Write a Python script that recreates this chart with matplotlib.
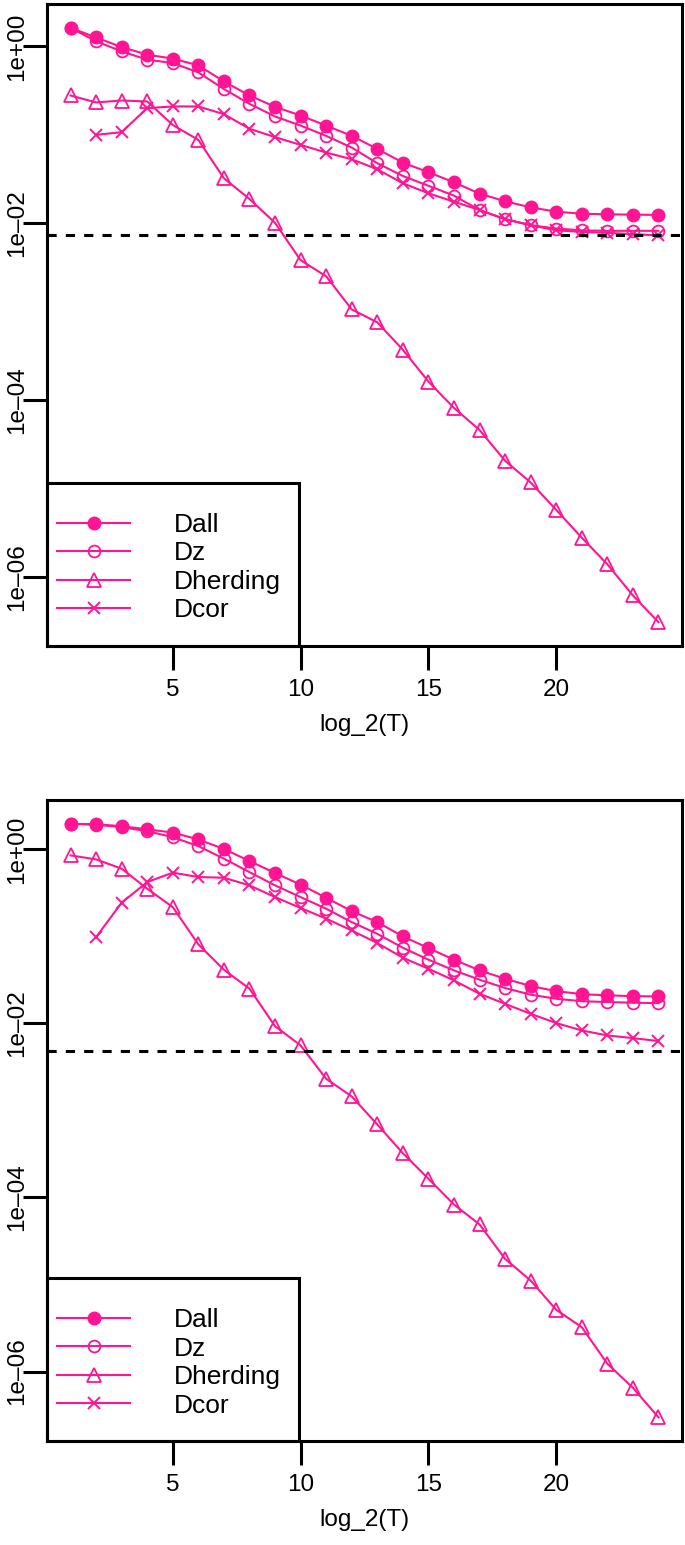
import matplotlib
matplotlib.use("Agg")
import matplotlib.pyplot as plt
from matplotlib.patches import Rectangle
from matplotlib.ticker import FixedLocator, FuncFormatter, NullLocator
import numpy as np

plt.rcParams['font.family'] = ['Liberation Sans', 'DejaVu Sans']

T = list(range(1, 25))
T_cor = list(range(2, 25))

# panel 1
dall_1 = [1.62, 1.26, 0.98, 0.805, 0.726, 0.609, 0.401, 0.278, 0.207, 0.165, 0.127, 0.0972,
          0.0692, 0.0484, 0.0377, 0.029, 0.0216, 0.0177, 0.0151, 0.0135, 0.0128, 0.0126, 0.0125, 0.0124]
dz_1 = [1.62, 1.14, 0.877, 0.706, 0.648, 0.507, 0.329, 0.224, 0.161, 0.127, 0.0972, 0.0716,
        0.0477, 0.0342, 0.0265, 0.0205, 0.0141, 0.0111, 0.0095, 0.0087, 0.0083, 0.0082, 0.0082, 0.0082]
dherd_1 = [0.278, 0.232, 0.244, 0.238, 0.129, 0.0875, 0.0322, 0.0188, 0.0101, 0.00382, 0.00251,
           0.00106, 0.000757, 0.000371, 0.000162, 8.15e-5, 4.59e-5, 2.06e-5, 1.17e-5, 5.73e-6,
           2.78e-6, 1.39e-6, 6.18e-7, 3.08e-7]
dcor_1 = [0.0997, 0.107, 0.2, 0.209, 0.209, 0.171, 0.117, 0.094, 0.0768, 0.0629, 0.0529, 0.0407,
          0.0283, 0.0218, 0.0175, 0.0141, 0.0111, 0.0095, 0.0083, 0.00798, 0.00778, 0.00752, 0.00727]
ref_1 = 0.0074

# panel 2
dall_2 = [1.97, 1.94, 1.85, 1.70, 1.56, 1.30, 1.01, 0.735, 0.535, 0.393, 0.278, 0.195, 0.146,
          0.1, 0.0734, 0.054, 0.0407, 0.0326, 0.0269, 0.0235, 0.0217, 0.021, 0.0206, 0.0204]
dz_2 = [1.97, 1.92, 1.80, 1.62, 1.38, 1.09, 0.782, 0.548, 0.386, 0.283, 0.208, 0.146, 0.107,
        0.0741, 0.054, 0.0407, 0.0318, 0.0255, 0.0214, 0.0192, 0.018, 0.0176, 0.0173, 0.0171]
dherd_2 = [0.853, 0.767, 0.6, 0.353, 0.217, 0.081, 0.0414, 0.0251, 0.0093, 0.00559, 0.00231,
           0.00145, 0.00069, 0.000323, 0.000164, 8.3e-5, 4.9e-5, 1.97e-5, 1.11e-5, 5.12e-6,
           3.23e-6, 1.23e-6, 6.5e-7, 2.98e-7]
dcor_2 = [0.098, 0.244, 0.421, 0.54, 0.481, 0.472, 0.386, 0.283, 0.212, 0.16, 0.117, 0.0838,
          0.0569, 0.0425, 0.0312, 0.0219, 0.0168, 0.0129, 0.0101, 0.0083, 0.00728, 0.00678, 0.00627]
ref_2 = 0.00477

labels = ['Dall', 'Dz', 'Dherding', 'Dcor']
col = '#FF1493'
fs = 17.5
fs_leg = 19


def panel(ax, dall, dz, dherd, dcor, ref):
    ax.plot(T, dall, color=col, lw=1.5, marker='o', ms=9, mfc=col, mec=col, label=labels[0])
    ax.plot(T, dz, color=col, lw=1.5, marker='o', ms=8.5, mfc='none', mec=col, mew=1.3, label=labels[1])
    ax.plot(T, dherd, color=col, lw=1.5, marker='^', ms=10, mfc='none', mec=col, mew=1.3, label=labels[2])
    ax.plot(T_cor, dcor, color=col, lw=1.5, marker='x', ms=9, mec=col, mew=1.4, label=labels[3])
    ax.axhline(ref, color='black', lw=2.2, dashes=(3, 3))

    ax.set_yscale('log')
    allv = np.concatenate([dall, dz, dherd, dcor])
    lo, hi = np.log10(allv.min()), np.log10(allv.max())
    pad = 0.04 * (hi - lo)
    ax.set_ylim(10 ** (lo - pad), 10 ** (hi + pad))
    ax.set_xlim(1 - 0.04 * 23, 24 + 0.04 * 23)

    ax.yaxis.set_major_locator(FixedLocator([1, 1e-2, 1e-4, 1e-6]))
    ax.yaxis.set_minor_locator(NullLocator())
    ax.yaxis.set_major_formatter(FuncFormatter(lambda v, p: f"{v:.0e}".replace('-', '\u2013')))
    ax.set_xticks([5, 10, 15, 20])

    for s in ax.spines.values():
        s.set_linewidth(2.2)
    ax.tick_params(axis='both', direction='out', length=17, width=2.2, labelsize=fs)
    ax.tick_params(axis='x', pad=7)
    ax.tick_params(axis='y', pad=-3.5, labelrotation=90)
    for t in ax.get_yticklabels():
        t.set_va('center')
    ax.set_xlabel('log_2(T)', fontsize=fs, labelpad=9)

    ax.add_patch(Rectangle((0, 0), 0.397, 0.254, transform=ax.transAxes, fill=False,
                           edgecolor='black', lw=2.2, zorder=5, clip_on=False))
    ax.legend(loc='center left', bbox_to_anchor=(0, 0.122), frameon=False, fontsize=fs_leg,
              handlelength=2.77, handletextpad=1.67, borderpad=0.38, borderaxespad=0,
              labelspacing=0.17)


fig = plt.figure(figsize=(6.85, 15.45), dpi=100)
ax1 = fig.add_axes([0.0686, 0.5819, 0.9270, 0.4155])
ax2 = fig.add_axes([0.0686, 0.0673, 0.9270, 0.4149])
panel(ax1, dall_1, dz_1, dherd_1, dcor_1, ref_1)
panel(ax2, dall_2, dz_2, dherd_2, dcor_2, ref_2)

fig.savefig('out.png', dpi=100)
